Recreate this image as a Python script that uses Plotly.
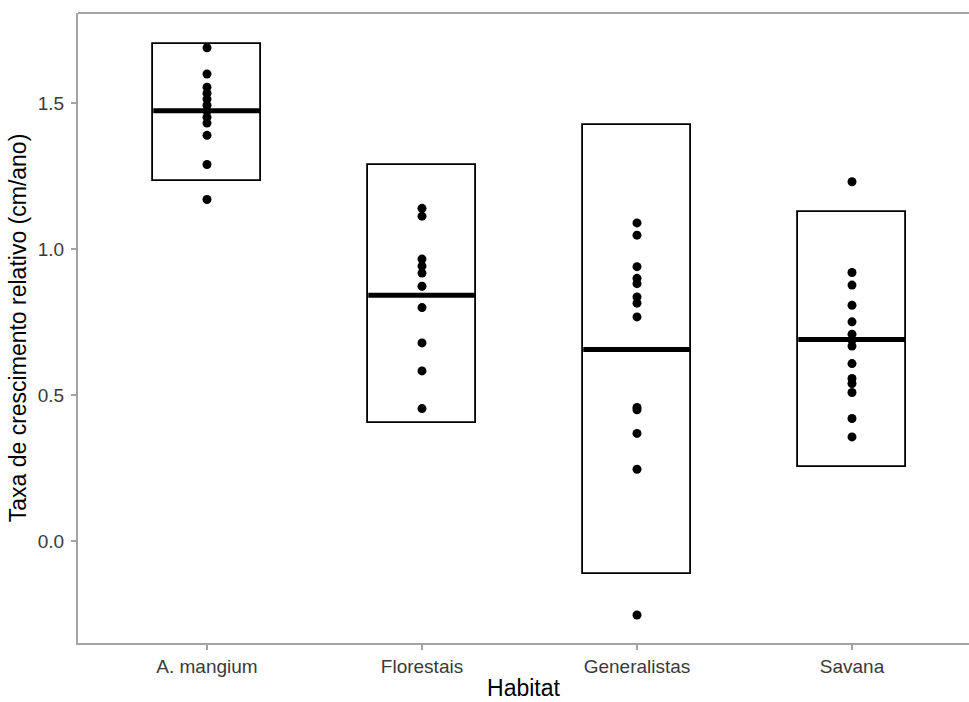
import plotly.graph_objects as go

categories = ["A. mangium", "Florestais", "Generalistas", "Savana"]

# individual observations (cm/ano)
pts_mangium = [1.69, 1.60, 1.555, 1.534, 1.514, 1.493, 1.473, 1.452, 1.432, 1.39, 1.29, 1.17]
pts_florestais = [1.14, 1.113, 0.966, 0.942, 0.918, 0.873, 0.80, 0.679, 0.583, 0.454]
pts_generalistas = [1.09, 1.048, 0.94, 0.90, 0.882, 0.836, 0.815, 0.768, 0.458, 0.450, 0.369, 0.246, -0.253]
pts_savana = [1.231, 0.92, 0.877, 0.808, 0.751, 0.709, 0.688, 0.668, 0.608, 0.557, 0.54, 0.509, 0.42, 0.357]

# crossbar summary: centre, lower, upper
centre = [1.474, 0.842, 0.656, 0.691]
lower = [1.234, 0.403, -0.111, 0.254]
upper = [1.704, 1.288, 1.425, 1.128]

yticks = [0.0, 0.5, 1.0, 1.5]

groups = [pts_mangium, pts_florestais, pts_generalistas, pts_savana]
xpos = list(range(1, len(categories) + 1))
half = 0.25

fig = go.Figure()

fig.add_trace(go.Bar(
    x=xpos, y=[u - l for u, l in zip(upper, lower)], base=lower, width=0.5,
    marker=dict(color="white", line=dict(color="black", width=1.8)),
    hoverinfo="skip", showlegend=False))

mx, my = [], []
for x, c in zip(xpos, centre):
    mx += [x - half, x + half, None]
    my += [c, c, None]
fig.add_trace(go.Scatter(x=mx, y=my, mode="lines", line=dict(color="black", width=5),
                         showlegend=False, hoverinfo="skip"))

px, py = [], []
for x, g in zip(xpos, groups):
    px += [x] * len(g)
    py += g
fig.add_trace(go.Scatter(x=px, y=py, mode="markers", marker=dict(color="black", size=9),
                         showlegend=False))

axis_col = "#a3a3a3"
fig.add_shape(type="line", xref="paper", yref="paper", x0=0, x1=1, y0=1, y1=1,
              line=dict(color=axis_col, width=2))

fig.update_layout(
    width=969, height=702,
    margin=dict(l=78, r=0, t=13, b=59),
    plot_bgcolor="white", paper_bgcolor="white",
    font=dict(family="Liberation Sans, Arial, sans-serif", color="black"),
    bargap=0,
    xaxis=dict(range=[0.4, 0.4 + 891 / 215], tickvals=xpos, ticktext=categories,
               showgrid=False, zeroline=False, showline=True, linecolor=axis_col, linewidth=2,
               ticks="outside", ticklen=5, tickcolor=axis_col, tickwidth=1.5,
               tickfont=dict(size=19, color="#3a3a3a"), automargin=False,
               title=dict(text="Habitat", font=dict(size=23), standoff=4)),
    yaxis=dict(range=[-0.349, 1.809], tickvals=yticks, tickformat=".1f",
               showgrid=False, zeroline=False, showline=True, linecolor=axis_col, linewidth=2,
               ticks="outside", ticklen=5, tickcolor=axis_col, tickwidth=1.5, ticklabelstandoff=3,
               tickfont=dict(size=19, color="#3a3a3a"), automargin=False,
               title=dict(text="Taxa de crescimento relativo (cm/ano)", font=dict(size=23), standoff=5)),
)

fig.write_html("out.html")
